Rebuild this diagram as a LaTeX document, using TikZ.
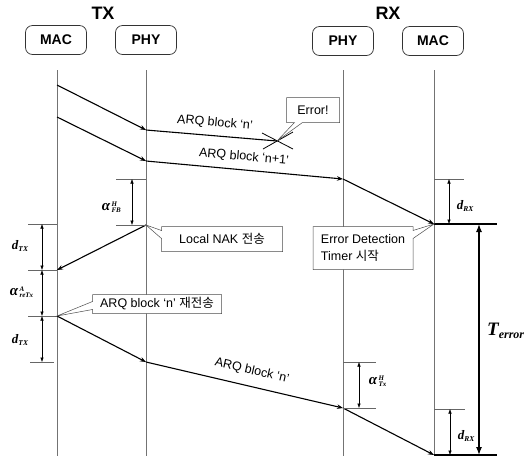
\documentclass[tikz,border=0pt]{standalone}
\usepackage{fontspec}
\setmainfont{Liberation Sans}
\newfontfamily\tnr{Liberation Serif}
\newfontfamily\cjk{Noto Sans CJK KR}
\usetikzlibrary{arrows.meta,shapes.callouts}
\newcommand\dlab[2]{{\tnr\bfseries\itshape\fontsize{13}{13}\selectfont #1\raisebox{-2.5pt}{\fontsize{7.5}{7.5}\selectfont #2}}}
% alpha label as three nodes: name, position, sup, sub
\newcommand\alabn[4]{%
  \node[albig] (#1) at #2 {α};
  \node[alsmall, anchor=south west, yshift=0.5pt, xshift=1pt] (#1-sup) at (#1.east) {#3};
  \node[alsmall, anchor=north west, yshift=-0.5pt, xshift=1pt] (#1-sub) at (#1.east) {#4};}
\begin{document}
\begin{tikzpicture}[x=1pt,y=-1pt,
  every node/.style={inner sep=0pt},
  albig/.style={font=\tnr\bfseries\itshape\fontsize{15}{15}\selectfont},
  alsmall/.style={font=\tnr\bfseries\itshape\fontsize{7}{7}\selectfont},
  hdr/.style={font=\bfseries\fontsize{18}{18}\selectfont},
  ent/.style={draw=black!80, rounded corners=7pt, line width=0.7pt, minimum width=61pt, minimum height=29pt, font=\bfseries\fontsize{14}{14}\selectfont},
  life/.style={draw=black!55, line width=0.6pt},
  msg/.style={draw=black, line width=1.1pt, -{Stealth[length=6pt,width=4.5pt]}},
  msgn/.style={draw=black, line width=1.1pt},
  tick/.style={draw=black!60, line width=0.5pt},
  dimarr/.style={draw=black, line width=0.5pt, {Latex[length=4.5pt,width=3.5pt]}-{Latex[length=4.5pt,width=3.5pt]}},
  bigarr/.style={draw=black, line width=1.2pt, {Latex[length=8pt,width=6pt]}-{Latex[length=8pt,width=6pt]}},
  lab/.style={font=\fontsize{12.5}{15}\selectfont},
  callbox/.style={rectangle callout, draw=black!70, line width=0.5pt, fill=white, font=\fontsize{12.5}{17}\selectfont, callout pointer width=8pt}
]
\useasboundingbox (0,0) rectangle (525,459);

% headers
\node[hdr] (tx) at (103,13) {TX};
\node[hdr] (rx) at (388,13) {RX};
\node[ent] (mactx) at (56,40) {MAC};
\node[ent] (phytx) at (146,40) {PHY};
\node[ent] (phyrx) at (343,41) {PHY};
\node[ent] (macrx) at (433,41) {MAC};

% lifelines
\coordinate (l1t) at (57,70);  \coordinate (l1b) at (57,456);
\coordinate (l2t) at (146,70); \coordinate (l2b) at (146,456);
\coordinate (l3t) at (343,70); \coordinate (l3b) at (343,456);
\coordinate (l4t) at (434,70); \coordinate (l4b) at (434,456);
\draw[life] (l1t) -- (l1b);
\draw[life] (l2t) -- (l2b);
\draw[life] (l3t) -- (l3b);
\draw[life] (l4t) -- (l4b);

% message points
\coordinate (m1s) at (57,85);  \coordinate (m1p) at (146,130); \coordinate (err) at (277,141);
\coordinate (m2s) at (57,117); \coordinate (m2p) at (146,161); \coordinate (m2r) at (343,179); \coordinate (m2m) at (434,224);
\coordinate (nks) at (146,225); \coordinate (nke) at (57,270);
\coordinate (rs) at (57,316); \coordinate (rp) at (146,362); \coordinate (rr) at (343,408); \coordinate (rm) at (434,455);

% messages
\draw[msg] (m1s) -- (m1p);
\draw[msgn] (m1p) -- (err);
\coordinate (x1a) at (262,133); \coordinate (x1b) at (293,149);
\coordinate (x2a) at (263,149); \coordinate (x2b) at (293,132);
\draw[line width=0.8pt] (x1a) -- (x1b);
\draw[line width=0.8pt] (x2a) -- (x2b);
\draw[msg] (m2s) -- (m2p);
\draw[msg] (m2p) -- (m2r);
\draw[msg] (m2r) -- (m2m);
\draw[msg] (nks) -- (nke);
\draw[msg] (rs) -- (rp);
\draw[msg] (rp) -- (rr);
\draw[msg] (rr) -- (rm);

% message labels
\node[lab, rotate=-5] (la1) at (215,123) {ARQ block `n'};
\node[lab, rotate=-5] (la2) at (244,157) {ARQ block `n+1'};
\node[lab, rotate=-13] (la3) at (252,371) {ARQ block `n'};

% dimension marks: alpha FB
\coordinate (fbt1) at (116,179); \coordinate (fbt2) at (146,179);
\coordinate (fbb1) at (116,225);
\draw[tick] (fbt1) -- (fbt2);
\draw[tick] (fbb1) -- (nks);
\coordinate (fba) at (132,179); \coordinate (fbb) at (132,225);
\draw[dimarr] (fba) -- (fbb);
\alabn{lfb}{(106,207)}{H}{FB}

% d_TX, alpha reTx, d_TX
\coordinate (t1a) at (28,224); \coordinate (t1b) at (57,224);
\coordinate (t2a) at (28,270);
\coordinate (t3a) at (28,316);
\coordinate (t4a) at (30,362); \coordinate (t4b) at (54,362);
\draw[tick] (t1a) -- (t1b);
\draw[tick] (t2a) -- (nke);
\draw[tick] (t3a) -- (rs);
\draw[tick] (t4a) -- (t4b);
\coordinate (v1) at (42,224); \coordinate (v2) at (42,270); \coordinate (v3) at (42,316); \coordinate (v4) at (42,362);
\draw[dimarr] (v1) -- (v2);
\draw[dimarr] (v2) -- (v3);
\draw[dimarr] (v3) -- (v4);
\node (ldtx1) at (20,246) {\dlab{d}{TX}};
\alabn{lre}{(14,292)}{A}{reTx}
\node (ldtx2) at (20,340) {\dlab{d}{TX}};

% d_RX upper
\coordinate (r1a) at (464,179);
\draw[tick] (m2r -| l4t) -- (r1a);
\coordinate (r1v1) at (449,179); \coordinate (r1v2) at (449,224);
\draw[dimarr] (r1v1) -- (r1v2);
\node (ldrx1) at (465,206) {\dlab{d}{RX}};

% T_error
\coordinate (te1) at (497,224); \coordinate (te2) at (497,455);
\draw[line width=1.3pt] (m2m) -- (te1);
\draw[line width=1.3pt] (rm) -- (te2);
\coordinate (tv1) at (479,224); \coordinate (tv2) at (479,455);
\draw[bigarr] (tv1) -- (tv2);
\node[anchor=west] (lte) at (487,331) {{\tnr\bfseries\itshape\fontsize{19}{19}\selectfont T\raisebox{-3pt}{\fontsize{12}{12}\selectfont error}}};

% alpha Tx
\coordinate (at1) at (376,362); \coordinate (at2) at (376,408);
\draw[tick] (rp -| l3t) -- (at1);
\draw[tick] (rr) -- (at2);
\coordinate (av1) at (359,362); \coordinate (av2) at (359,408);
\draw[dimarr] (av1) -- (av2);
\alabn{ltx}{(373,381)}{H}{Tx}

% d_RX lower
\coordinate (r2a) at (465,409); \coordinate (r2s) at (434,409);
\draw[tick] (r2s) -- (r2a);
\coordinate (r2v1) at (450,409); \coordinate (r2v2) at (450,455);
\draw[dimarr] (r2v1) -- (r2v2);
\node (ldrx2) at (466,436) {\dlab{d}{RX}};

% callouts
\node[callbox, minimum width=53pt, minimum height=25pt, callout absolute pointer={(err)}] (cerr) at (313,110) {Error!};
\node[callbox, minimum width=121pt, minimum height=25pt, callout absolute pointer={(nks)}] (cnak) at (222,239) {Local NAK {\cjk 전송}};
\node[callbox, minimum width=100pt, minimum height=43pt, align=left, callout absolute pointer={(m2m)}] (ctim) at (363,248) {Error Detection\\Timer {\cjk 시작}};
\node[callbox, minimum width=129pt, minimum height=19pt, callout absolute pointer={(rs)}] (cre) at (157,304) {ARQ block `n' {\cjk 재전송}};
\end{tikzpicture}
\end{document}
